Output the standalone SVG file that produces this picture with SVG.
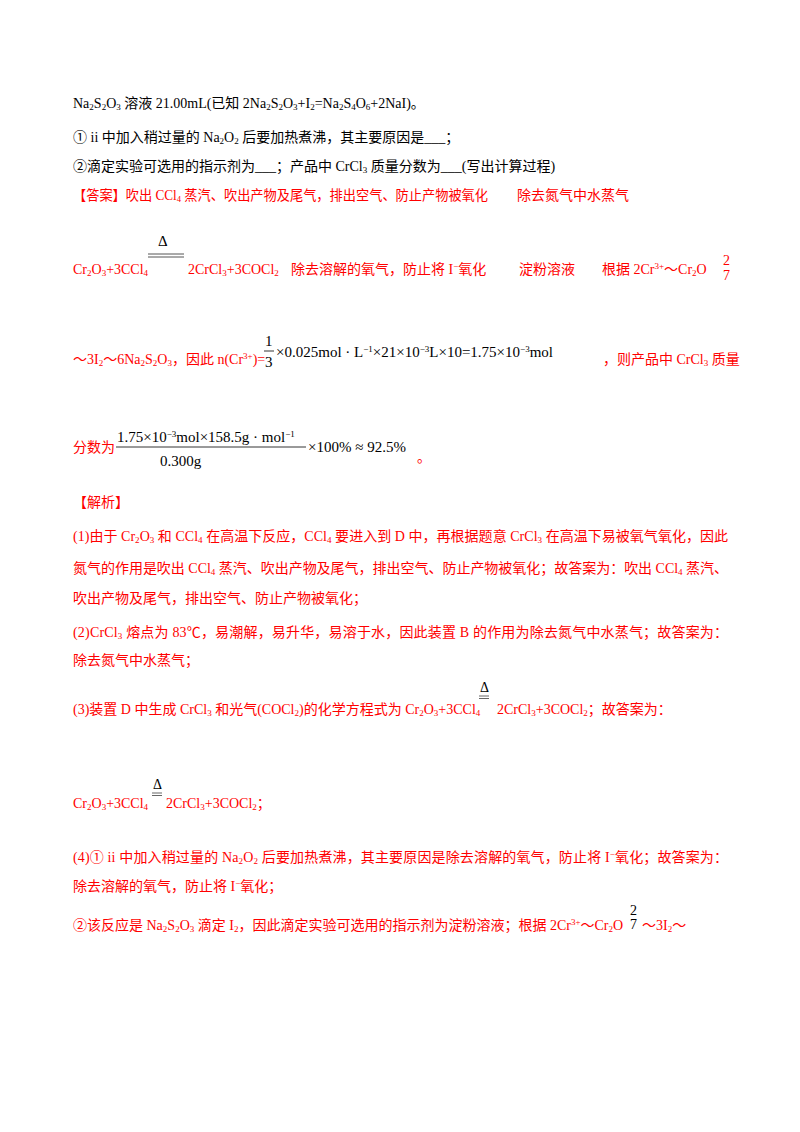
<svg xmlns="http://www.w3.org/2000/svg" width="800" height="1132" viewBox="0 0 800 1132">
<style>
text{font-family:"Liberation Serif","Noto Sans CJK SC",serif;font-size:14px;fill:#000}
.r{fill:#ff0000}
.s{font-size:9px;baseline-shift:-2px}
.u{font-size:9px;baseline-shift:super}
.m{font-family:"Liberation Serif",serif;font-size:15px}
</style>
<rect width="800" height="1132" fill="#fff"/>
<text x="73" y="108">Na<tspan class="s">2</tspan>S<tspan class="s">2</tspan>O<tspan class="s">3</tspan> 溶液 21.00mL(已知 2Na<tspan class="s">2</tspan>S<tspan class="s">2</tspan>O<tspan class="s">3</tspan>+I<tspan class="s">2</tspan>=Na<tspan class="s">2</tspan>S<tspan class="s">4</tspan>O<tspan class="s">6</tspan>+2NaI)。</text>
<text x="73" y="142">① ii 中加入稍过量的 Na<tspan class="s">2</tspan>O<tspan class="s">2</tspan> 后要加热煮沸，其主要原因是___；</text>
<text x="73" y="171">②滴定实验可选用的指示剂为___；产品中 CrCl<tspan class="s">3</tspan> 质量分数为___(写出计算过程)</text>
<text x="73" y="200" class="r" textLength="415" lengthAdjust="spacingAndGlyphs">【答案】吹出 CCl<tspan class="s">4</tspan> 蒸汽、吹出产物及尾气，排出空气、防止产物被氧化</text>
<text x="517" y="200" class="r">除去氮气中水蒸气</text>
<text x="158" y="246" class="m">Δ</text>
<line x1="148" y1="254" x2="184" y2="254" stroke="#555" stroke-width="1"/>
<line x1="148" y1="257" x2="184" y2="257" stroke="#555" stroke-width="1"/>
<text x="73" y="274" class="r">Cr<tspan class="s">2</tspan>O<tspan class="s">3</tspan>+3CCl<tspan class="s">4</tspan></text>
<text x="188" y="274" class="r">2CrCl<tspan class="s">3</tspan>+3COCl<tspan class="s">2</tspan></text>
<text x="291" y="274" class="r">除去溶解的氧气，防止将 I<tspan class="u">−</tspan>氧化</text>
<text x="519" y="274" class="r">淀粉溶液</text>
<text x="602" y="274" class="r">根据 2Cr<tspan class="u">3+</tspan>～Cr<tspan class="s">2</tspan>O</text>
<text x="723" y="265" class="r" font-size="9">2</text>
<text x="723" y="280" class="r" font-size="9">7</text>
<text x="73" y="364" class="r">～3I<tspan class="s">2</tspan>～6Na<tspan class="s">2</tspan>S<tspan class="s">2</tspan>O<tspan class="s">3</tspan>，因此 n(Cr<tspan class="u">3+</tspan>)=</text>
<text x="265" y="346" class="m">1</text>
<line x1="264" y1="351" x2="274" y2="351" stroke="#000" stroke-width="0.8"/>
<text x="265" y="367" class="m">3</text>
<text x="276" y="357" class="m">×0.025mol · L<tspan class="u">−1</tspan>×21×10<tspan class="u">−3</tspan>L×10=1.75×10<tspan class="u">−3</tspan>mol</text>
<text x="603" y="364" class="r">，则产品中 CrCl<tspan class="s">3</tspan> 质量</text>
<text x="73" y="452" class="r">分数为</text>
<text x="117" y="442" class="m">1.75×10<tspan class="u">−3</tspan>mol×158.5g · mol<tspan class="u">−1</tspan></text>
<line x1="116" y1="447" x2="306" y2="447" stroke="#000" stroke-width="0.8"/>
<text x="160" y="466" class="m">0.300g</text>
<text x="308" y="452" class="m">×100% ≈ 92.5%</text>
<text x="417" y="462" class="r">。</text>
<text x="73" y="507" class="r">【解析】</text>
<text x="73" y="541" class="r" textLength="655" lengthAdjust="spacing">(1)由于 Cr<tspan class="s">2</tspan>O<tspan class="s">3</tspan> 和 CCl<tspan class="s">4</tspan> 在高温下反应，CCl<tspan class="s">4</tspan> 要进入到 D 中，再根据题意 CrCl<tspan class="s">3</tspan> 在高温下易被氧气氧化，因此</text>
<text x="73" y="573" class="r" textLength="655" lengthAdjust="spacing">氮气的作用是吹出 CCl<tspan class="s">4</tspan> 蒸汽、吹出产物及尾气，排出空气、防止产物被氧化；故答案为：吹出 CCl<tspan class="s">4</tspan> 蒸汽、</text>
<text x="73" y="603" class="r">吹出产物及尾气，排出空气、防止产物被氧化；</text>
<text x="73" y="637" class="r" textLength="655" lengthAdjust="spacing">(2)CrCl<tspan class="s">3</tspan> 熔点为 83℃，易潮解，易升华，易溶于水，因此装置 B 的作用为除去氮气中水蒸气；故答案为：</text>
<text x="73" y="665" class="r">除去氮气中水蒸气；</text>
<text x="480" y="692" font-size="12">Δ</text>
<line x1="479" y1="696" x2="489" y2="696" stroke="#000" stroke-width="0.6"/>
<line x1="479" y1="698.5" x2="489" y2="698.5" stroke="#000" stroke-width="0.6"/>
<text x="73" y="714" class="r">(3)装置 D 中生成 CrCl<tspan class="s">3</tspan> 和光气(COCl<tspan class="s">2</tspan>)的化学方程式为 Cr<tspan class="s">2</tspan>O<tspan class="s">3</tspan>+3CCl<tspan class="s">4</tspan></text>
<text x="497" y="714" class="r">2CrCl<tspan class="s">3</tspan>+3COCl<tspan class="s">2</tspan>；故答案为：</text>
<text x="153" y="789" font-size="12">Δ</text>
<line x1="152" y1="793" x2="162" y2="793" stroke="#000" stroke-width="0.6"/>
<line x1="152" y1="795.5" x2="162" y2="795.5" stroke="#000" stroke-width="0.6"/>
<text x="73" y="808" class="r">Cr<tspan class="s">2</tspan>O<tspan class="s">3</tspan>+3CCl<tspan class="s">4</tspan></text>
<text x="166" y="808" class="r">2CrCl<tspan class="s">3</tspan>+3COCl<tspan class="s">2</tspan>；</text>
<text x="73" y="862" class="r" textLength="655" lengthAdjust="spacing">(4)① ii 中加入稍过量的 Na<tspan class="s">2</tspan>O<tspan class="s">2</tspan> 后要加热煮沸，其主要原因是除去溶解的氧气，防止将 I<tspan class="u">−</tspan>氧化；故答案为：</text>
<text x="73" y="891" class="r">除去溶解的氧气，防止将 I<tspan class="u">−</tspan>氧化；</text>
<text x="73" y="930" class="r">②该反应是 Na<tspan class="s">2</tspan>S<tspan class="s">2</tspan>O<tspan class="s">3</tspan> 滴定 I<tspan class="s">2</tspan>，因此滴定实验可选用的指示剂为淀粉溶液；根据 2Cr<tspan class="u">3+</tspan>～Cr<tspan class="s">2</tspan>O</text>
<text x="630" y="915" font-size="9">2</text>
<text x="630" y="929" font-size="9">7</text>
<text x="642" y="930" class="r">～3I<tspan class="s">2</tspan>～</text>
</svg>
